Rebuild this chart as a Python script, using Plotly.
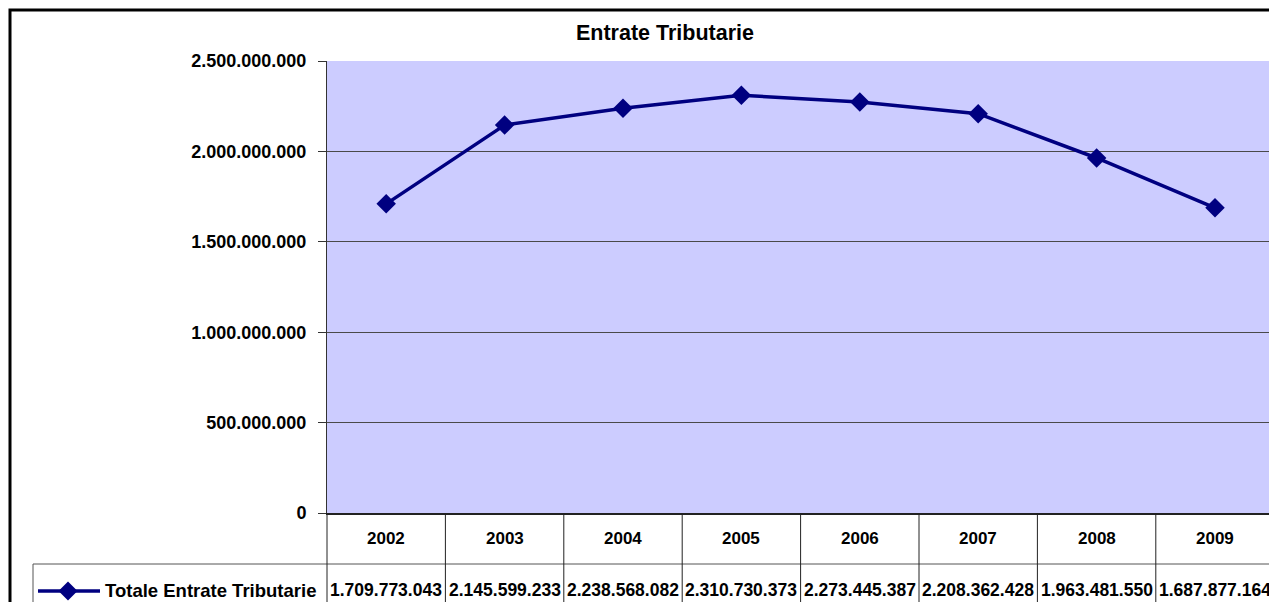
import plotly.graph_objects as go

# ---- data ----
years = ["2002", "2003", "2004", "2005", "2006", "2007", "2008", "2009"]
values = [1709773043, 2145599233, 2238568082, 2310730373,
          2273445387, 2208362428, 1963481550, 1687877164]
series_name = "Totale Entrate Tributarie"
title_text = "Entrate Tributarie"
y_ticks = [0, 500000000, 1000000000, 1500000000, 2000000000, 2500000000]

# ---- layout geometry (pixels) ----
FIG_W, FIG_H = 1269, 602
L, T, B = 327, 61, 89
W = FIG_W - L
H = FIG_H - T - B
CAT_W = 118.4
NAVY = "#000080"
FONT = "Liberation Sans"


def px_x(px):
    return (px - L) / W


def px_y(py):
    return (FIG_H - B - py) / H


def fmt(v):
    return f"{v:,}".replace(",", ".")


fig = go.Figure()
fig.add_trace(go.Scatter(
    x=years, y=values, mode="lines+markers", name=series_name,
    line=dict(color=NAVY, width=3.5),
    marker=dict(symbol="diamond", size=15, color=NAVY),
    showlegend=False, cliponaxis=False,
))

shapes = []
annotations = []

# outer chart border
shapes.append(dict(type="rect", xref="paper", yref="paper",
                   x0=px_x(10), x1=px_x(1400), y0=px_y(10), y1=px_y(800),
                   line=dict(color="#000000", width=3), layer="below"))

# data table: horizontal line between rows
shapes.append(dict(type="line", xref="paper", yref="paper",
                   x0=px_x(33), x1=px_x(1400), y0=px_y(564), y1=px_y(564),
                   line=dict(color="#555555", width=1)))
# left edge of table (plot left edge extended down)
shapes.append(dict(type="line", xref="paper", yref="paper",
                   x0=0, x1=0, y0=0, y1=px_y(610),
                   line=dict(color="#222222", width=1)))
# legend cell left border
shapes.append(dict(type="line", xref="paper", yref="paper",
                   x0=px_x(33), x1=px_x(33), y0=px_y(564), y1=px_y(610),
                   line=dict(color="#555555", width=1)))
# category boundaries
for k in range(1, len(years) + 1):
    shapes.append(dict(type="line", xref="x", yref="paper",
                       x0=k - 0.5, x1=k - 0.5, y0=0, y1=px_y(610),
                       line=dict(color="#222222", width=1)))

# table text
for i, (yr, v) in enumerate(zip(years, values)):
    annotations.append(dict(x=i, y=px_y(538), xref="x", yref="paper",
                            text=yr, showarrow=False,
                            font=dict(family=FONT, size=17, color="#000", weight="bold"),
                            xanchor="center", yanchor="middle"))
    annotations.append(dict(x=i, y=px_y(590), xref="x", yref="paper",
                            text=fmt(v), showarrow=False,
                            font=dict(family=FONT, size=17.5, color="#000", weight="bold"),
                            xanchor="center", yanchor="middle"))

# legend key inside the table
shapes.append(dict(type="line", xref="paper", yref="paper",
                   x0=px_x(38), x1=px_x(100), y0=px_y(591), y1=px_y(591),
                   line=dict(color=NAVY, width=3.5)))
cx, cy, r = 68, 591, 9.5
shapes.append(dict(type="path", xref="paper", yref="paper",
                   path=(f"M {px_x(cx - r)} {px_y(cy)} L {px_x(cx)} {px_y(cy - r)} "
                         f"L {px_x(cx + r)} {px_y(cy)} L {px_x(cx)} {px_y(cy + r)} Z"),
                   fillcolor=NAVY, line=dict(color=NAVY, width=0)))
annotations.append(dict(x=px_x(103), y=px_y(590), xref="paper", yref="paper",
                        text=series_name, showarrow=False,
                        font=dict(family=FONT, size=18.5, color="#000", weight="bold"),
                        xanchor="left", yanchor="middle"))

fig.update_layout(
    width=FIG_W, height=FIG_H,
    margin=dict(l=L, r=0, t=T, b=B, pad=0),
    paper_bgcolor="#FFFFFF", plot_bgcolor="#CCCCFF",
    separators=",.",
    title=dict(text=title_text, xref="container", yref="container",
               x=665 / FIG_W, y=1 - 32 / FIG_H, xanchor="center", yanchor="middle",
               font=dict(family=FONT, size=21.5, color="#000", weight="bold")),
    xaxis=dict(type="category", categoryorder="array", categoryarray=years,
               range=[-0.5, -0.5 + W / CAT_W], showticklabels=False,
               showgrid=False, zeroline=False, ticks="",
               showline=True, linecolor="#222222", linewidth=1.5),
    yaxis=dict(range=[0, 2500000000], tickvals=y_ticks, tickformat=",d",
               showgrid=True, gridcolor="#4a4a4a", gridwidth=1, zeroline=False,
               showline=True, linecolor="#333333", linewidth=1,
               ticks="outside", ticklen=8, tickcolor="#333333",
               ticklabelstandoff=8,
               tickfont=dict(family=FONT, size=18, color="#000", weight="bold")),
    shapes=shapes, annotations=annotations,
)

fig.write_html(
    "out.html",
    config={"displayModeBar": False},
    post_script="document.body.style.margin='0';document.body.style.overflow='hidden';",
)
